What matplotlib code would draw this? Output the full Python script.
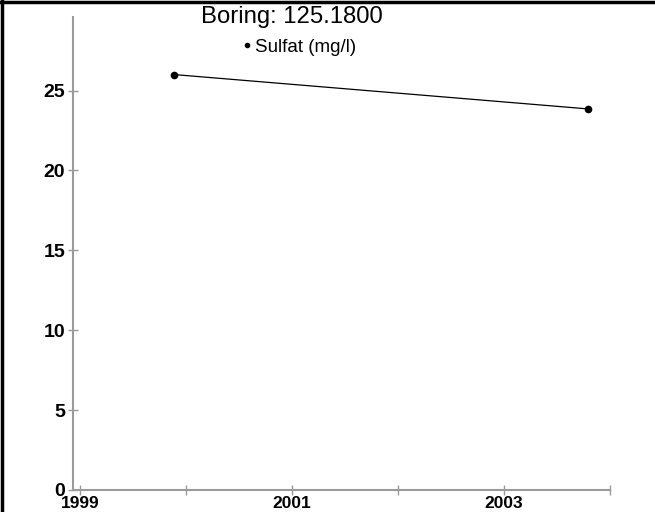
import matplotlib.pyplot as plt
from matplotlib.lines import Line2D

# sampling dates (decimal years) and sulfate concentrations
dates = [1999.88, 2003.79]
sulfat = [26.0, 23.85]

x_ticks = [1999, 2000, 2001, 2002, 2003, 2004]
x_labels = ['1999', '', '2001', '', '2003', '']
y_ticks = [0, 5, 10, 15, 20, 25]

title = 'Boring: 125.1800'
series_name = 'Sulfat (mg/l)'

axis_grey = '#9a9a9a'
y_font = {'family': ['Liberation Sans', 'DejaVu Sans'], 'weight': 'bold', 'size': 14}
x_font = {'family': ['Liberation Sans', 'DejaVu Sans'], 'weight': 'bold', 'size': 12.5}

fig = plt.figure(figsize=(6.55, 5.12), dpi=100)
ax = fig.add_axes([73 / 655, 1 - 490 / 512, (610 - 73) / 655, (490 - 17) / 512])

ax.plot(dates, sulfat, color='black', linewidth=0.9, marker='o', markersize=4.5)

ax.set_xlim(1998.93, 2004.0)
ax.set_ylim(0, 29.6)
ax.set_xticks(x_ticks)
ax.set_xticklabels(x_labels, fontdict=x_font)
ax.set_yticks(y_ticks)
ax.set_yticklabels([str(v) for v in y_ticks], fontdict=y_font)
ax.tick_params(direction='inout', length=7, width=1, color=axis_grey)
ax.tick_params(axis='y', pad=2)
ax.tick_params(axis='x', pad=1)

for side in ['top', 'right']:
    ax.spines[side].set_visible(False)
for side in ['left', 'bottom']:
    ax.spines[side].set_color(axis_grey)
    ax.spines[side].set_linewidth(1.5)

fig.text(292 / 655, 1 - 17 / 512, title, ha='center', va='center',
         family=['Liberation Sans', 'DejaVu Sans'], fontsize=17.2)

handle = Line2D([], [], color='black', marker='o', markersize=3, linestyle='none')
fig.legend([handle], [series_name], loc='center', bbox_to_anchor=(300 / 655, 1 - 47 / 512),
           frameon=False, handlelength=0.3, handletextpad=0.25, borderpad=0,
           prop={'family': ['Liberation Sans', 'DejaVu Sans'], 'size': 13.5})

# frame along the top and left edges of the figure
fig.add_artist(Line2D([0, 1], [1 - 1.5 / 512] * 2, transform=fig.transFigure, color='black', linewidth=2.5))
fig.add_artist(Line2D([1.5 / 655] * 2, [0, 1], transform=fig.transFigure, color='black', linewidth=2.5))

fig.savefig('out.png', dpi=100)
